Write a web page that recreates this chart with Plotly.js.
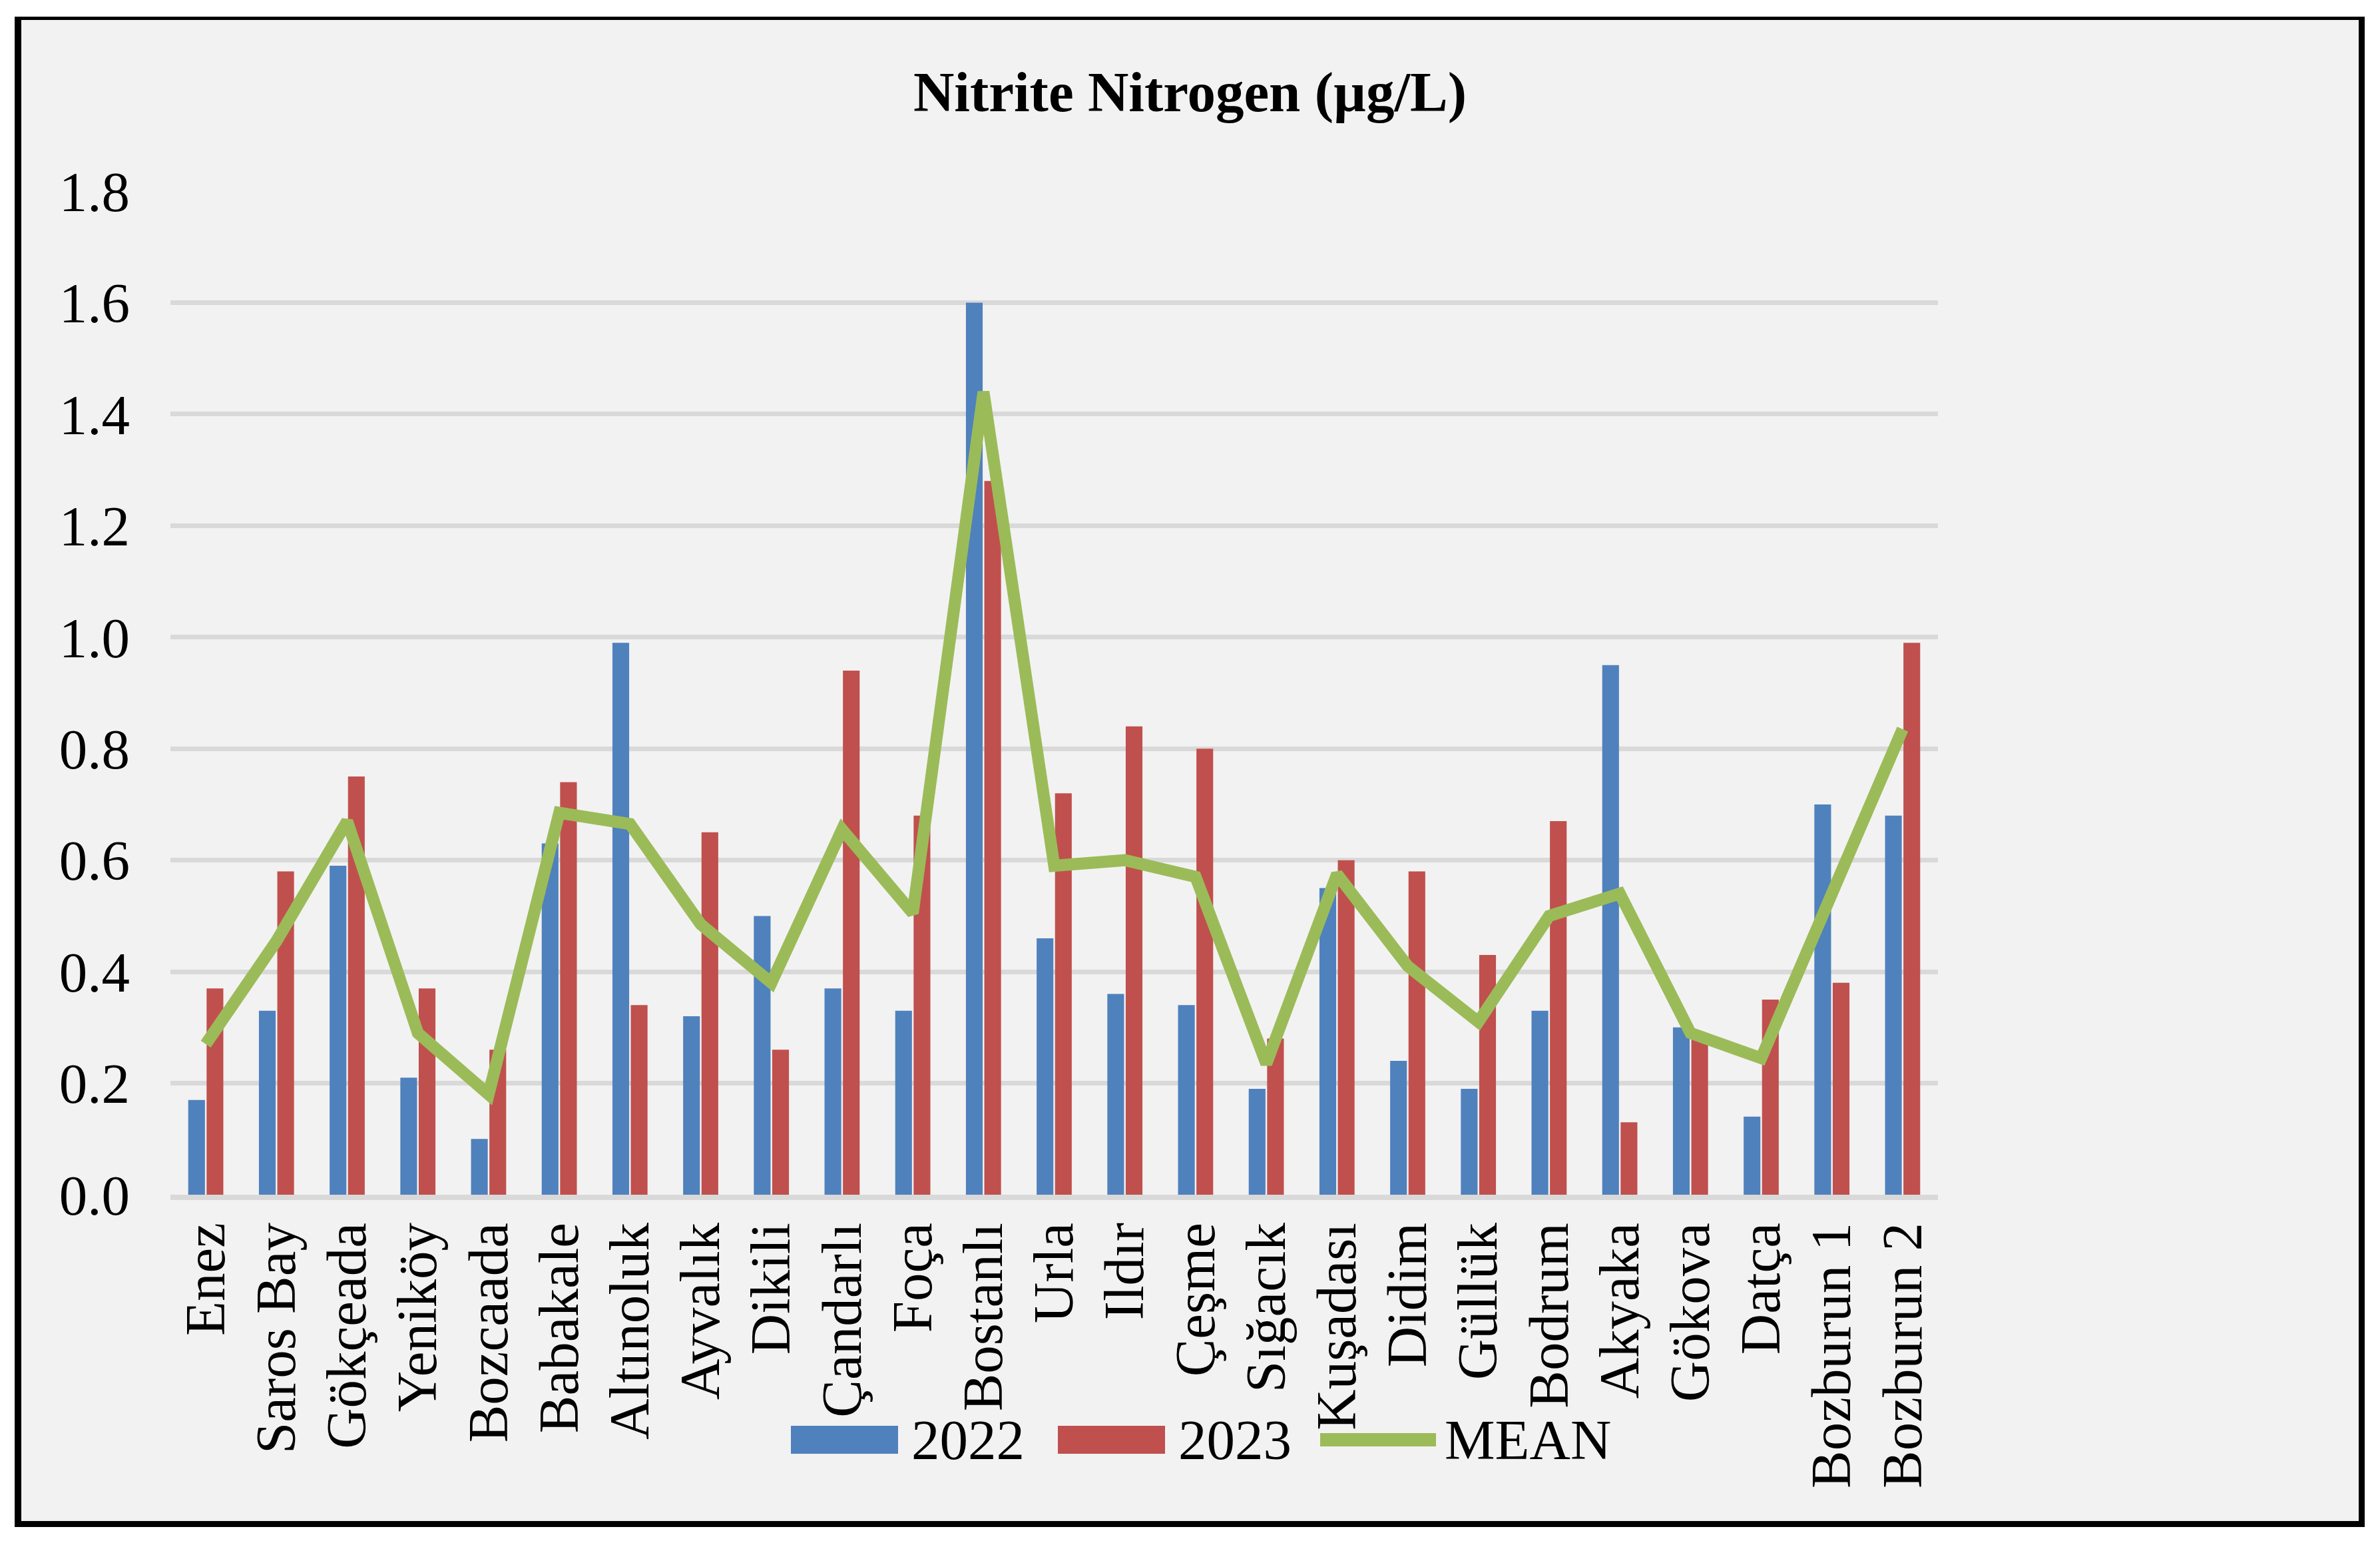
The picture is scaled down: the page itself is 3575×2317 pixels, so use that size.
<!DOCTYPE html>
<html>
<head>
<meta charset="utf-8">
<script src="https://cdn.plot.ly/plotly-3.0.1.min.js"></script>
<style>
  html, body { margin: 0; padding: 0; background: #ffffff; }
  #frame { position: absolute; left: 22px; top: 25px; width: 3530px; height: 2268px;
           background: #f2f2f2; border-style: solid; border-color: #000;
           border-width: 5px 9px 9px 10px; box-sizing: border-box; }
  #chart { position: absolute; left: 0; top: 0; width: 3575px; height: 2317px; }
</style>
</head>
<body>
<div id="frame"></div>
<div id="chart"></div>
<script>
const categories = ["Enez","Saros Bay","Gökçeada","Yeniköy","Bozcaada","Babakale","Altınoluk","Ayvalık","Dikili","Çandarlı","Foça","Bostanlı","Urla","Ildır","Çeşme","Sığacık","Kuşadası","Didim","Güllük","Bodrum","Akyaka","Gökova","Datça","Bozburun 1","Bozburun 2"];
const values2022 = [0.17,0.33,0.59,0.21,0.10,0.63,0.99,0.32,0.50,0.37,0.33,1.60,0.46,0.36,0.34,0.19,0.55,0.24,0.19,0.33,0.95,0.30,0.14,0.70,0.68];
const values2023 = [0.37,0.58,0.75,0.37,0.26,0.74,0.34,0.65,0.26,0.94,0.68,1.28,0.72,0.84,0.80,0.28,0.60,0.58,0.43,0.67,0.13,0.28,0.35,0.38,0.99];
const valuesMean = [0.27,0.455,0.67,0.29,0.18,0.685,0.665,0.485,0.38,0.655,0.505,1.44,0.59,0.60,0.57,0.235,0.575,0.41,0.31,0.50,0.54,0.29,0.245,0.54,0.835];
const seriesNames = ["2022","2023","MEAN"];
const seriesColors = ["#4f81bd","#c0504d","#9bbb59"];
const yTickValues = [0,0.2,0.4,0.6,0.8,1.0,1.2,1.4,1.6,1.8];
const chartTitle = "Nitrite Nitrogen (µg/L)";

const W = 3575, H = 2317;
const M = {l: 256, r: 664, t: 287, b: 523};
const pw = W - M.l - M.r, ph = H - M.t - M.b;
const px2x = p => (p - M.l) / pw;
const px2y = p => (H - M.b - p) / ph;

const FONT = "Liberation Serif, Times New Roman, serif";

const traces = [
  {type: 'bar', name: seriesNames[0], x: categories, y: values2022, marker: {color: seriesColors[0]}, showlegend: false, hoverinfo: 'skip'},
  {type: 'bar', name: seriesNames[1], x: categories, y: values2023, marker: {color: seriesColors[1]}, showlegend: false, hoverinfo: 'skip'},
  {type: 'scatter', mode: 'lines', name: seriesNames[2], x: categories, y: valuesMean,
   line: {color: seriesColors[2], width: 18}, showlegend: false, hoverinfo: 'skip'}
];

// custom legend (wide swatches, as in the reference)
const legY = 2162;
const shapes = [
  {type: 'rect', xref: 'paper', yref: 'paper', x0: px2x(1188), x1: px2x(1349), y0: px2y(2183), y1: px2y(2141),
   fillcolor: seriesColors[0], line: {width: 0}},
  {type: 'rect', xref: 'paper', yref: 'paper', x0: px2x(1589), x1: px2x(1750), y0: px2y(2183), y1: px2y(2141),
   fillcolor: seriesColors[1], line: {width: 0}},
  {type: 'rect', xref: 'paper', yref: 'paper', x0: px2x(1983), x1: px2x(2157), y0: px2y(2172), y1: px2y(2152),
   fillcolor: seriesColors[2], line: {width: 0}}
];
const legTextX = [1367, 1768, 2168];
const annotations = seriesNames.map((n, i) => ({
  xref: 'paper', yref: 'paper', x: px2x(legTextX[i]), y: px2y(legY), xanchor: 'left', yanchor: 'middle',
  text: n, showarrow: false, font: {family: FONT, size: 85, color: '#000'}
}));

const layout = {
  width: W, height: H,
  margin: M,
  paper_bgcolor: 'rgba(0,0,0,0)',
  plot_bgcolor: 'rgba(0,0,0,0)',
  barmode: 'group',
  bargap: 0.48,
  bargroupgap: 0.09,
  title: {text: '<b>' + chartTitle + '</b>', xref: 'container', x: 0.5, xanchor: 'center',
          yref: 'container', y: 1 - 137 / H, yanchor: 'middle',
          font: {family: FONT, size: 85, color: '#000'}},
  xaxis: {
    type: 'category', tickangle: -90, ticks: '', showgrid: false, zeroline: false,
    showline: true, linecolor: '#d9d9d9', linewidth: 8,
    tickfont: {family: FONT, size: 85, color: '#000'},
    automargin: false
  },
  yaxis: {
    range: [0, 1.8], tickvals: yTickValues, tickformat: '.1f', ticks: '',
    showgrid: true, gridcolor: '#d9d9d9', gridwidth: 7, zeroline: false, showline: false,
    tickfont: {family: FONT, size: 85, color: '#000'},
    ticklabelstandoff: 60,
    automargin: false
  },
  shapes: shapes,
  annotations: annotations,
  showlegend: false
};

Plotly.newPlot('chart', traces, layout, {staticPlot: true, displayModeBar: false});
</script>
</body>
</html>
